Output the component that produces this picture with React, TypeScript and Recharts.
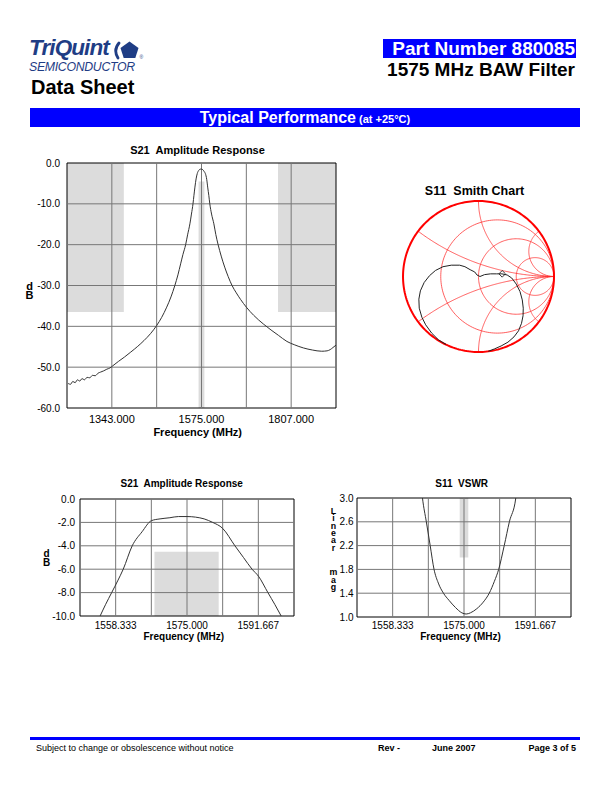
import React from 'react';
import {
  LineChart,
  Line,
  XAxis,
  YAxis,
  ReferenceArea,
  ReferenceLine,
  ScatterChart,
  Scatter,
} from 'recharts';

const FONT = '"Liberation Sans", Arial, Helvetica, sans-serif';
const NAVY = '#1f3d85';
const BLUE = '#0000ff';
const GRID = '#777777';
const SHADE = '#dcdcdc';
const TRACE = '#333333';

// ---------- Wideband S21 (top chart) ----------
const wideFreq = [1230, 1236, 1242, 1248, 1254, 1260, 1266, 1272, 1279, 1286, 1293, 1300, 1307, 1314, 1322, 1330, 1338, 1345, 1360, 1376, 1392, 1410, 1426, 1443, 1459, 1472, 1485, 1496, 1506, 1514, 1521, 1527, 1534, 1539, 1545, 1549, 1553, 1555.5, 1558, 1561, 1564, 1568, 1572, 1575, 1579, 1582, 1585, 1588.5, 1591, 1594, 1596.5, 1601, 1607, 1612, 1618, 1626, 1635, 1644, 1654, 1665, 1676, 1691, 1710, 1736, 1755, 1774, 1796, 1815, 1839, 1862, 1886, 1900, 1908, 1915, 1923];
const wideDb = [-54.0, -54.2, -53.5, -53.8, -53.1, -53.4, -52.8, -53.1, -52.5, -52.6, -52.0, -52.1, -51.5, -51.2, -50.9, -50.5, -50.2, -49.7, -48.6, -47.5, -46.3, -44.9, -43.5, -41.8, -39.8, -37.8, -35.3, -32.8, -30.0, -27.4, -24.7, -22.4, -20.0, -17.6, -14.9, -12.5, -10.0, -7.9, -5.9, -3.9, -2.6, -1.8, -1.5, -1.5, -1.7, -2.1, -2.6, -4.0, -5.9, -8.0, -10.0, -12.5, -14.9, -17.5, -20.0, -22.8, -25.5, -27.8, -30.0, -31.8, -33.4, -35.3, -37.3, -39.5, -40.9, -42.2, -43.7, -44.5, -45.3, -45.8, -46.1, -46.0, -45.7, -45.2, -44.6];
const wideDomainX = [1227, 1923];
const wideDomainY = [-60, 0];
const wideXTicks = [1343, 1459, 1575, 1691, 1807];
const wideXLabels = ['1343.000', '', '1575.000', '', '1807.000'];
const wideYTicks = [0, -10, -20, -30, -40, -50, -60];
const wideStopbands = [
  [1227, 1374],
  [1773, 1923],
];
const wideStopLevel = -36.5;

// ---------- Narrowband S21 (bottom left) ----------
const narrowFreq = [1554.7, 1556.0, 1557.4, 1558.8, 1560.1, 1562.2, 1564.5, 1566.7, 1568.7, 1571.0, 1573.0, 1575.0, 1577.0, 1579.0, 1581.0, 1583.3, 1586.2, 1588.2, 1590.2, 1591.7, 1593.9, 1595.5, 1597.0];
const narrowDb = [-10.0, -9.0, -8.0, -7.0, -6.0, -4.0, -2.8, -1.85, -1.7, -1.6, -1.5, -1.5, -1.55, -1.7, -2.0, -2.5, -4.0, -5.0, -6.0, -6.6, -8.0, -9.0, -10.0];
const narrowDomainX = [1550, 1600];
const narrowDomainY = [-10, 0];
const narrowXTicks = [1558.333, 1566.667, 1575.0, 1583.333, 1591.667];
const narrowXLabels = ['1558.333', '', '1575.000', '', '1591.667'];
const narrowYTicks = [0, -2, -4, -6, -8, -10];

// passband mask shared by both S21 plots
const passband = [1567.4, 1582.4];
const passLevel = -4.5;

// ---------- S11 VSWR (bottom right) ----------
const vswrFreq = [1565.0, 1565.3, 1566.2, 1567.1, 1568.0, 1569.0, 1570.2, 1571.5, 1573.0, 1574.5, 1575.5, 1576.5, 1578.0, 1579.5, 1580.9, 1582.1, 1583.1, 1584.4, 1585.6, 1587.1, 1587.4];
const vswrVal = [3.2, 3.0, 2.6, 2.2, 1.8, 1.57, 1.4, 1.28, 1.16, 1.07, 1.05, 1.07, 1.14, 1.25, 1.4, 1.6, 1.8, 2.2, 2.6, 3.0, 3.2];
const vswrDomainY = [1.0, 3.0];
const vswrYTicks = [1.0, 1.4, 1.8, 2.2, 2.6, 3.0];
const vswrMask = [1574.0, 1576.0];
const vswrMaskLevel = 2.0;

// ---------- S11 Smith chart ----------
const s11Re = [-0.43, -0.53, -0.62, -0.7, -0.75, -0.785, -0.79, -0.77, -0.72, -0.65, -0.57, -0.47, -0.36, -0.25, -0.18, -0.11, -0.05, -0.02, 0.02, 0.08, 0.16, 0.24, 0.31, 0.38, 0.44, 0.5, 0.55, 0.58, 0.593, 0.59, 0.57, 0.53, 0.47, 0.39, 0.3, 0.21, 0.13];
const s11Im = [-0.9, -0.84, -0.75, -0.64, -0.54, -0.42, -0.3, -0.19, -0.08, 0.01, 0.08, 0.13, 0.15, 0.15, 0.13, 0.09, 0.06, 0.02, 0.0, 0.025, 0.035, 0.035, 0.035, 0.02, -0.02, -0.1, -0.2, -0.31, -0.42, -0.52, -0.62, -0.72, -0.8, -0.87, -0.92, -0.96, -0.99];
const markerRe = [0.314];
const markerIm = [0.035];
const smithResistances = [1 / 3, 1, 3];
const smithReactances = [1 / 3, 1, 3, -1 / 3, -1, -3];
const smithLimit = 1.04;

// ---------- tables built for the library ----------
const wideData = wideFreq.map((f, i) => ({ f, v: wideDb[i] }));
const narrowData = narrowFreq.map((f, i) => ({ f, v: narrowDb[i] }));
const vswrData = vswrFreq.map((f, i) => ({ f, v: vswrVal[i] }));
const s11Data = s11Re.map((x, i) => ({ x, y: s11Im[i] }));
const markerData = markerRe.map((x, i) => ({ x, y: markerIm[i] }));

const circlePts = (cx: number, cy: number, rad: number, n = 180) =>
  Array.from({ length: n + 1 }, (_, i) => {
    const t = (2 * Math.PI * i) / n;
    return { x: cx + rad * Math.cos(t), y: cy + rad * Math.sin(t) };
  });
const resistanceCircle = (r: number) => circlePts(r / (1 + r), 0, 1 / (1 + r));
const reactanceArc = (xv: number) => {
  const pts: { x: number; y: number }[] = [];
  const N = 120;
  for (let k = 0; k <= N; k++) {
    const th = (k / N) * (Math.PI / 2) * 0.9995;
    const r = Math.tan(th);
    const den = (r + 1) * (r + 1) + xv * xv;
    pts.push({ x: (r * r - 1 + xv * xv) / den, y: (2 * xv) / den });
  }
  pts.push({ x: 1, y: 0 });
  return pts;
};
const outerCircle = circlePts(0, 0, 1, 240);

// ---------- helpers ----------
type TxtProps = {
  x: number;
  cap: number; // y of cap top
  size: number;
  bold?: boolean;
  italic?: boolean;
  color?: string;
  align?: 'left' | 'center' | 'right';
  ls?: number;
  children: React.ReactNode;
};
const Txt = ({ x, cap, size, bold, italic, color = '#000', align = 'left', ls, children }: TxtProps) => {
  const style: React.CSSProperties = {
    position: 'absolute',
    top: cap - 0.13 * size,
    fontFamily: FONT,
    fontSize: size,
    lineHeight: `${size}px`,
    fontWeight: bold ? 'bold' : 'normal',
    fontStyle: italic ? 'italic' : 'normal',
    color,
    whiteSpace: 'pre',
    letterSpacing: ls,
  };
  if (align === 'left') style.left = x;
  else if (align === 'right') style.right = 612 - x;
  else {
    style.left = x;
    style.transform = 'translateX(-50%)';
  }
  return <div style={style}>{children}</div>;
};

// stacked (upright vertical) label: one text element
const VTxt = ({ x, top, size, pitch, children }: { x: number; top: number; size: number; pitch: number; children: string }) => (
  <div
    style={{
      position: 'absolute',
      left: x - size / 2,
      top,
      width: size,
      fontFamily: FONT,
      fontSize: size,
      lineHeight: `${size}px`,
      fontWeight: 'bold',
      writingMode: 'vertical-rl',
      textOrientation: 'upright',
      letterSpacing: pitch - size,
      whiteSpace: 'pre',
    }}
  >
    {children}
  </div>
);

const gridLines = (xs: number[], ys: number[], prefix: string) => [
  ...xs.map((v) => <ReferenceLine key={`${prefix}x${v}`} x={v} stroke={GRID} strokeWidth={1} ifOverflow="visible" />),
  ...ys.map((v) => <ReferenceLine key={`${prefix}y${v}`} y={v} stroke={GRID} strokeWidth={1} ifOverflow="visible" />),
];

const tickStyle = (size: number) => ({ fill: '#000', fontSize: size, fontFamily: FONT });

const NoDot = () => <g />;
const Diamond = (props: any) => {
  const { cx, cy } = props;
  if (cx == null || cy == null) return <g />;
  const s = 3.3;
  return (
    <polygon
      points={`${cx},${cy - s} ${cx + s},${cy} ${cx},${cy + s} ${cx - s},${cy}`}
      fill="none"
      stroke="#222"
      strokeWidth={0.9}
    />
  );
};

const Logo = () => (
  <svg style={{ position: 'absolute', left: 112, top: 39 }} width={32} height={24}>
    <path d="M7 4 Q1 11 6 19" stroke={NAVY} strokeWidth={2.8} fill="none" strokeLinecap="round" />
    <polygon points="17.5,2.5 26.5,9 23.3,19 11.7,19 8.5,9" fill={NAVY} />
    <text x={27.5} y={19.5} fontSize={5} fontFamily={FONT} fill={NAVY}>
      ®
    </text>
  </svg>
);

const SMITH_GRID = '#ff2a2a';

export default function App() {
  return (
    <div style={{ position: 'absolute', left: 0, top: 0, width: 612, height: 792, background: '#fff', overflow: 'hidden' }}>
      {/* Header */}
      <Txt x={29} cap={39.8} size={22.5} bold italic color={NAVY} ls={-0.9}>
        TriQuint
      </Txt>
      <Logo />
      <Txt x={29} cap={62.6} size={12.3} italic color={NAVY} ls={-0.3}>
        SEMICONDUCTOR
      </Txt>
      <Txt x={31} cap={79.3} size={20} bold>
        Data Sheet
      </Txt>
      <div style={{ position: 'absolute', left: 383, top: 39, width: 193, height: 19, background: BLUE }} />
      <Txt x={575} cap={41.5} size={19} bold color="#fff" align="right">
        Part Number 880085
      </Txt>
      <Txt x={575} cap={62} size={19} bold align="right">
        1575 MHz BAW Filter
      </Txt>

      {/* Section bar */}
      <div
        style={{
          position: 'absolute',
          left: 30,
          top: 108,
          width: 550,
          height: 19,
          background: BLUE,
          color: '#fff',
          fontFamily: FONT,
          fontWeight: 'bold',
          textAlign: 'center',
          lineHeight: '19px',
          whiteSpace: 'pre',
        }}
      >
        <span style={{ fontSize: 16 }}>Typical Performance</span>
        <span style={{ fontSize: 11 }}> (at +25°C)</span>
      </div>

      {/* Top S21 chart */}
      <Txt x={197.5} cap={146} size={11} bold align="center">
        {'S21  Amplitude Response'}
      </Txt>
      <div style={{ position: 'absolute', left: 20, top: 150 }}>
        <LineChart width={330} height={300} data={wideData} margin={{ top: 13, right: 14, left: 0, bottom: 0 }}>
          <XAxis
            dataKey="f"
            type="number"
            domain={wideDomainX}
            allowDataOverflow
            ticks={wideXTicks}
            tickFormatter={(_v: number, i: number) => wideXLabels[i]}
            interval={0}
            axisLine={false}
            tickLine={false}
            tickSize={0}
            tickMargin={7}
            height={42}
            tick={tickStyle(11)}
          />
          <YAxis
            type="number"
            domain={wideDomainY}
            allowDataOverflow
            ticks={wideYTicks}
            interval={0}
            tickFormatter={(v: number) => v.toFixed(1)}
            axisLine={false}
            tickLine={false}
            tickSize={0}
            tickMargin={7}
            width={47}
            tick={tickStyle(10)}
          />
          {wideStopbands.map((b, i) => (
            <ReferenceArea key={`sb${i}`} x1={b[0]} x2={b[1]} y1={wideStopLevel} y2={0} fill={SHADE} fillOpacity={1} stroke="none" ifOverflow="visible" />
          ))}
          <ReferenceArea x1={passband[0]} x2={passband[1]} y1={-60} y2={passLevel} fill={SHADE} fillOpacity={1} stroke="none" ifOverflow="visible" />
          {gridLines(wideXTicks, wideYTicks.slice(1, -1), 'w')}
          <ReferenceArea x1={wideDomainX[0]} x2={wideDomainX[1]} y1={-60} y2={0} fill="none" stroke="#000" strokeWidth={1} ifOverflow="visible" />
          <Line type="monotone" dataKey="v" stroke={TRACE} strokeWidth={1} dot={false} isAnimationActive={false} />
        </LineChart>
      </div>
      <VTxt x={29} top={280} size={11} pitch={8}>
        dB
      </VTxt>
      <Txt x={197.7} cap={428} size={11} bold align="center">
        Frequency (MHz)
      </Txt>

      {/* Smith chart */}
      <Txt x={474.5} cap={186.7} size={12.5} bold align="center">
        {'S11  Smith Chart'}
      </Txt>
      <div style={{ position: 'absolute', left: 398, top: 196 }}>
        <ScatterChart width={161} height={161} margin={{ top: 2, right: 2, bottom: 2, left: 2 }}>
          <XAxis type="number" dataKey="x" domain={[-smithLimit, smithLimit]} hide allowDataOverflow />
          <YAxis type="number" dataKey="y" domain={[-smithLimit, smithLimit]} hide allowDataOverflow />
          {smithResistances.map((r) => (
            <Scatter
              key={`r${r}`}
              data={resistanceCircle(r)}
              line={{ stroke: SMITH_GRID, strokeWidth: 0.75 }}
              shape={NoDot}
              isAnimationActive={false}
            />
          ))}
          {smithReactances.map((xv) => (
            <Scatter
              key={`x${xv}`}
              data={reactanceArc(xv)}
              line={{ stroke: SMITH_GRID, strokeWidth: 0.75 }}
              shape={NoDot}
              isAnimationActive={false}
            />
          ))}
          <Scatter data={outerCircle} line={{ stroke: '#ff0000', strokeWidth: 2 }} shape={NoDot} isAnimationActive={false} />
          <Scatter data={s11Data} line={{ stroke: '#222', strokeWidth: 1 }} shape={NoDot} isAnimationActive={false} />
          <Scatter data={markerData} shape={Diamond} isAnimationActive={false} />
        </ScatterChart>
      </div>

      {/* Bottom-left narrowband S21 */}
      <Txt x={181.7} cap={480} size={10} bold align="center">
        {'S21  Amplitude Response'}
      </Txt>
      <div style={{ position: 'absolute', left: 20, top: 490 }}>
        <LineChart width={280} height={156} data={narrowData} margin={{ top: 9, right: 6, left: 0, bottom: 0 }}>
          <XAxis
            dataKey="f"
            type="number"
            domain={narrowDomainX}
            allowDataOverflow
            ticks={narrowXTicks}
            tickFormatter={(_v: number, i: number) => narrowXLabels[i]}
            interval={0}
            axisLine={false}
            tickLine={false}
            tickSize={0}
            tickMargin={5.5}
            height={30}
            tick={tickStyle(10)}
          />
          <YAxis
            type="number"
            domain={narrowDomainY}
            allowDataOverflow
            ticks={narrowYTicks}
            interval={0}
            tickFormatter={(v: number) => v.toFixed(1)}
            axisLine={false}
            tickLine={false}
            tickSize={0}
            tickMargin={5}
            width={60}
            tick={tickStyle(10)}
          />
          <ReferenceArea x1={passband[0]} x2={passband[1]} y1={-10} y2={passLevel} fill={SHADE} fillOpacity={1} stroke="none" ifOverflow="visible" />
          {gridLines(narrowXTicks, narrowYTicks.slice(1, -1), 'n')}
          <ReferenceArea x1={narrowDomainX[0]} x2={narrowDomainX[1]} y1={-10} y2={0} fill="none" stroke="#000" strokeWidth={1} ifOverflow="visible" />
          <Line type="monotone" dataKey="v" stroke={TRACE} strokeWidth={1} dot={false} isAnimationActive={false} />
        </LineChart>
      </div>
      <VTxt x={46} top={548} size={10} pitch={8}>
        dB
      </VTxt>
      <Txt x={183.8} cap={633} size={10} bold align="center">
        Frequency (MHz)
      </Txt>

      {/* Bottom-right VSWR */}
      <Txt x={461.7} cap={480} size={10} bold align="center">
        {'S11  VSWR'}
      </Txt>
      <div style={{ position: 'absolute', left: 300, top: 490 }}>
        <LineChart width={275} height={157} data={vswrData} margin={{ top: 8, right: 4, left: 0, bottom: 0 }}>
          <XAxis
            dataKey="f"
            type="number"
            domain={narrowDomainX}
            allowDataOverflow
            ticks={narrowXTicks}
            tickFormatter={(_v: number, i: number) => narrowXLabels[i]}
            interval={0}
            axisLine={false}
            tickLine={false}
            tickSize={0}
            tickMargin={4.5}
            height={30}
            tick={tickStyle(10)}
          />
          <YAxis
            type="number"
            domain={vswrDomainY}
            allowDataOverflow
            ticks={vswrYTicks}
            interval={0}
            tickFormatter={(v: number) => v.toFixed(1)}
            axisLine={false}
            tickLine={false}
            tickSize={0}
            tickMargin={3.5}
            width={57}
            tick={tickStyle(10)}
          />
          <ReferenceArea x1={vswrMask[0]} x2={vswrMask[1]} y1={vswrMaskLevel} y2={3.0} fill={SHADE} fillOpacity={1} stroke="none" ifOverflow="visible" />
          {gridLines(narrowXTicks, vswrYTicks.slice(1, -1), 'v')}
          <ReferenceArea x1={narrowDomainX[0]} x2={narrowDomainX[1]} y1={1.0} y2={3.0} fill="none" stroke="#000" strokeWidth={1} ifOverflow="visible" />
          <Line type="monotone" dataKey="v" stroke={TRACE} strokeWidth={1} dot={false} isAnimationActive={false} />
        </LineChart>
      </div>
      <VTxt x={333} top={506} size={8.8} pitch={6.1}>
        Linear
      </VTxt>
      <VTxt x={333} top={567} size={8.8} pitch={6.4}>
        mag
      </VTxt>
      <Txt x={460.5} cap={633} size={10} bold align="center">
        Frequency (MHz)
      </Txt>

      {/* Footer */}
      <div style={{ position: 'absolute', left: 30, top: 737, width: 550, height: 3, background: BLUE }} />
      <Txt x={36} cap={745} size={9}>
        Subject to change or obsolescence without notice
      </Txt>
      <Txt x={378} cap={745} size={9} bold>
        Rev -
      </Txt>
      <Txt x={432} cap={745} size={9} bold>
        June 2007
      </Txt>
      <Txt x={576} cap={745} size={9} bold align="right">
        Page 3 of 5
      </Txt>
    </div>
  );
}
